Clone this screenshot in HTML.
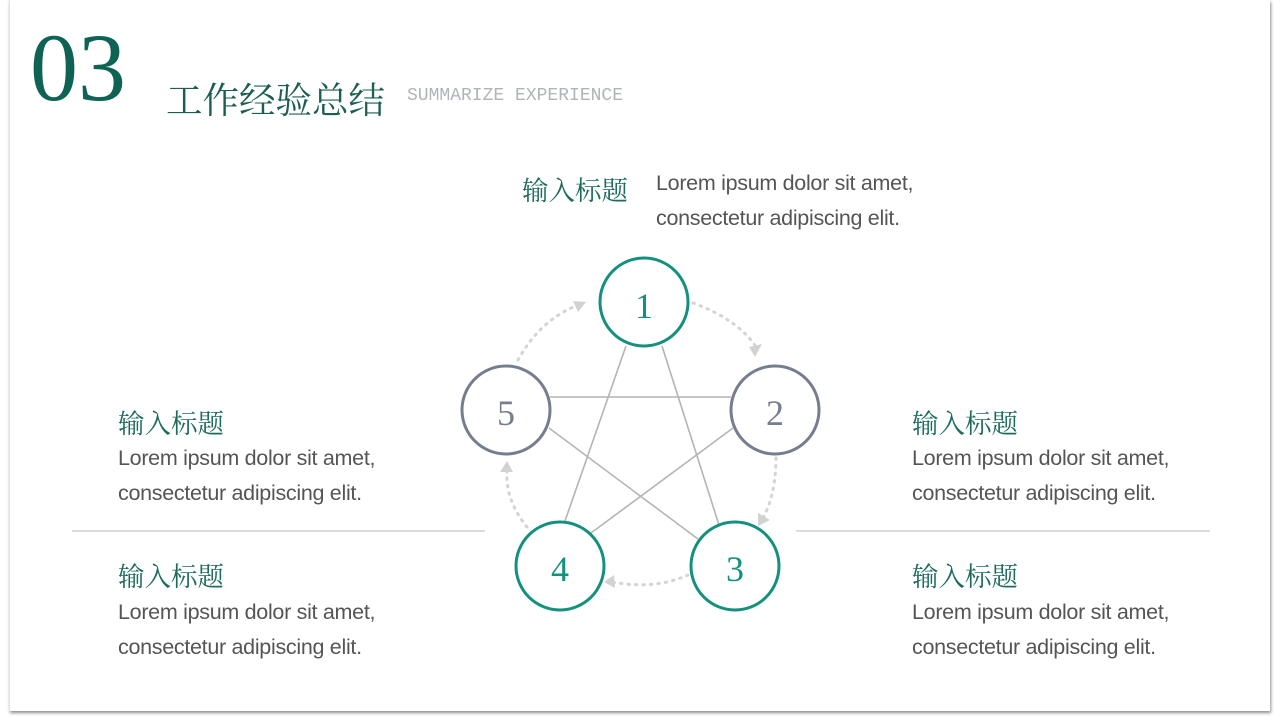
<!DOCTYPE html>
<html><head><meta charset="utf-8"><style>
body{margin:0;width:1280px;height:720px;background:#fff;position:relative;overflow:hidden;font-family:"Liberation Sans","Noto Sans CJK SC",sans-serif}
.page{position:absolute;left:9px;top:0;width:1260px;height:711px;background:#fff;box-shadow:1px 2px 3px rgba(0,0,0,0.45);border-left:1px solid #e4e4e4}
.t{position:absolute;white-space:nowrap}
.h{font-family:"Liberation Serif","Noto Serif CJK SC",serif;color:#1c6b5c;font-size:26.5px}
.p{color:#555;font-size:21.5px;line-height:35px;font-family:"Liberation Sans","DejaVu Sans",sans-serif;letter-spacing:-0.3px}
</style></head><body>
<div class="page"></div>
<div class="t" style="left:30px;top:18px;font-family:'Liberation Serif',serif;font-size:96px;color:#0e6354;line-height:100px">03</div>
<div class="t" style="left:166px;top:72px;font-family:'Liberation Serif','Noto Serif CJK SC',serif;font-size:36.5px;color:#1c5f52">工作经验总结</div>
<div class="t" style="left:407px;top:86px;font-family:'Liberation Mono',monospace;font-size:18px;color:#b0b4ba;letter-spacing:0px">SUMMARIZE EXPERIENCE</div>

<div class="t h" style="left:522px;top:169px">输入标题</div>
<div class="t p" style="left:656px;top:166px">Lorem ipsum dolor sit amet,<br>consectetur adipiscing elit.</div>
<div class="t h" style="left:118px;top:402px">输入标题</div>
<div class="t p" style="left:118px;top:441px">Lorem ipsum dolor sit amet,<br>consectetur adipiscing elit.</div>
<div class="t h" style="left:118px;top:555px">输入标题</div>
<div class="t p" style="left:118px;top:595px">Lorem ipsum dolor sit amet,<br>consectetur adipiscing elit.</div>
<div class="t h" style="left:912px;top:402px">输入标题</div>
<div class="t p" style="left:912px;top:441px">Lorem ipsum dolor sit amet,<br>consectetur adipiscing elit.</div>
<div class="t h" style="left:912px;top:555px">输入标题</div>
<div class="t p" style="left:912px;top:595px">Lorem ipsum dolor sit amet,<br>consectetur adipiscing elit.</div>

<svg width="1280" height="720" style="position:absolute;left:0;top:0">
<g stroke="#c8c8c8" stroke-width="1.2">
<line x1="72" y1="531" x2="485" y2="531"/><line x1="796" y1="531" x2="1210" y2="531"/>
</g>
<g stroke="#b4b4b4" stroke-width="1.6">
<line x1="626" y1="346" x2="565" y2="521"/>
<line x1="662" y1="346" x2="719" y2="525"/>
<line x1="550" y1="397" x2="731" y2="397"/>
<line x1="549" y1="428" x2="698" y2="539"/>
<line x1="733" y1="428" x2="591" y2="533"/>
</g>
<g fill="none" stroke="#d4d4d4" stroke-width="3" stroke-dasharray="1.5 6" stroke-linecap="round">
<path d="M693 303 Q740 320 758 350"/>
<path d="M776 458 Q776 495 762 520"/>
<path d="M688 575 Q655 590 612 582"/>
<path d="M527 527 Q505 500 507 470"/>
<path d="M518 360 Q540 320 578 305"/>
</g>
<g fill="#d2d2d2">
<polygon points="755,357 762,344 749,347"/>
<polygon points="758,526 770,520 758,513"/>
<polygon points="604,582 614,575 615,588"/>
<polygon points="507,461 500,472 513,472"/>
<polygon points="586,302 573,301 578,312"/>
</g>
<g fill="#fff" stroke-width="3">
<circle cx="644" cy="302" r="44" stroke="#14917e"/>
<circle cx="775" cy="410" r="44" stroke="#767d8e"/>
<circle cx="735" cy="566" r="44" stroke="#14917e"/>
<circle cx="560" cy="566" r="44" stroke="#14917e"/>
<circle cx="506" cy="410" r="44" stroke="#767d8e"/>
</g>
<g font-family="Liberation Serif,serif" font-size="36" text-anchor="middle">
<text x="644" y="318" fill="#14917e">1</text>
<text x="775" y="425" fill="#767d8e">2</text>
<text x="735" y="581" fill="#14917e">3</text>
<text x="560" y="581" fill="#14917e">4</text>
<text x="506" y="425" fill="#767d8e">5</text>
</g>
</svg>
</body></html>
